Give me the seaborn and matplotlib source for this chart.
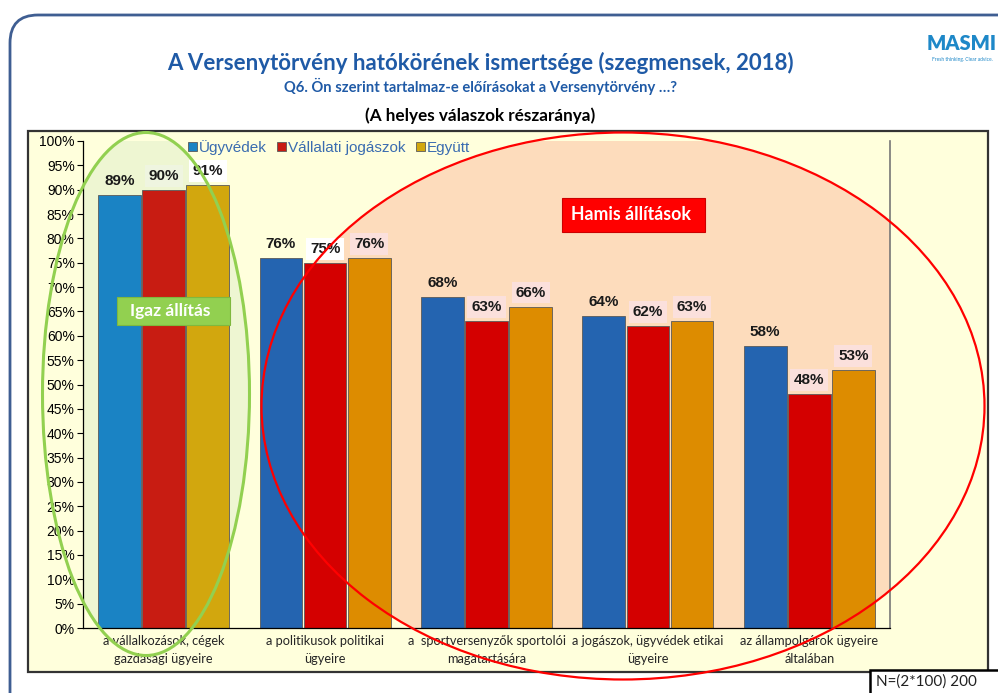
import matplotlib
matplotlib.use("Agg")
import matplotlib.pyplot as plt
import seaborn as sns
import pandas as pd
from matplotlib.patches import Ellipse, Rectangle, FancyBboxPatch
from matplotlib.transforms import IdentityTransform

# ---------------- data ----------------
categories = [
    "a vállalkozások, cégek\ngazdasági ügyeire",
    "a politikusok politikai\nügyeire",
    "a  sportversenyzők sportolói\nmagatartására",
    "a jogászok, ügyvédek etikai\nügyeire",
    "az állampolgárok ügyeire\náltalában",
]
series = ["Ügyvédek", "Vállalati jogászok", "Együtt"]
ugyvedek = [89, 76, 68, 64, 58]
vallalati = [90, 75, 63, 62, 48]
egyutt = [91, 76, 66, 63, 53]
yticks = list(range(0, 101, 5))

title = "A Versenytörvény hatókörének ismertsége (szegmensek, 2018)"
subtitle = "Q6. Ön szerint tartalmaz-e előírásokat a Versenytörvény …?"
subtitle2 = "(A helyes válaszok részaránya)"
note = "N=(2*100) 200"

# ---------------- figure ----------------
sns.set_theme(style="white")
plt.rcParams["font.family"] = ["Liberation Sans", "DejaVu Sans"]

W, H = 998, 693
fig = plt.figure(figsize=(W / 100, H / 100), dpi=100)
fig.patch.set_facecolor("white")


def fx(x):
    return x / W


def fy(y):
    return 1 - y / H


# outer rounded frame (pixel coordinates)
frame = FancyBboxPatch((10, -40), 1040, H - 15 + 40,
                       boxstyle="round,pad=0,rounding_size=28",
                       transform=IdentityTransform(), facecolor="white",
                       edgecolor="#3F5E92", linewidth=2.0, zorder=-3)
fig.add_artist(frame)

# chart box
chart_box = Rectangle((fx(28), fy(672)), fx(988) - fx(28), fy(131) - fy(672),
                      transform=fig.transFigure, facecolor="#FFFFDC",
                      edgecolor="#333333", linewidth=1.6, zorder=-2)
fig.add_artist(chart_box)

# axes
ax_l, ax_r, ax_t, ax_b = 83, 890, 141, 628
ax = fig.add_axes([fx(ax_l), fy(ax_b), fx(ax_r) - fx(ax_l), fy(ax_t) - fy(ax_b)])
ax.set_facecolor("#FFFFDC")

df = pd.DataFrame({
    "cat": categories * 3,
    "series": [series[0]] * 5 + [series[1]] * 5 + [series[2]] * 5,
    "val": ugyvedek + vallalati + egyutt,
})

pal_g1 = ["#1A83C4", "#C81C12", "#D2A70E"]
pal_rest = ["#2464B0", "#D40000", "#DD8C00"]

sns.barplot(data=df, x="cat", y="val", hue="series", hue_order=series,
            order=categories, palette=pal_g1, width=0.82, gap=0.03,
            ax=ax, legend=True, edgecolor="#5A5A5A", linewidth=0.6,
            saturation=1, zorder=2)

# recolor bars in the "false statement" region
for si, cont in enumerate(ax.containers):
    for ci, bar in enumerate(cont):
        bar.set_facecolor(pal_g1[si] if ci == 0 else pal_rest[si])

# region fills (clipped to plot area)
green_fill = Ellipse((fx(146), fy(394)), 207 / W, 523 / H,
                     transform=fig.transFigure, facecolor="#EEF6D2",
                     edgecolor="none", zorder=0.5)
ax.add_patch(green_fill)
red_fill = Ellipse((fx(623), fy(406)), 723 / W, 547 / H,
                   transform=fig.transFigure, facecolor="#FDDCBC",
                   edgecolor="none", zorder=0.5)
ax.add_patch(red_fill)

# axes styling
ax.set_ylim(0, 100)
ax.set_xlim(-0.5, 4.5)
ax.set_yticks(yticks)
ax.set_yticklabels([f"{t}%" for t in yticks], fontsize=10, color="black")
ax.set_xlabel("")
ax.set_ylabel("")
ax.tick_params(axis="y", length=4, width=0.8, color="black", pad=2, left=True)
ax.tick_params(axis="x", length=0, pad=5)
for lbl in ax.get_xticklabels():
    lbl.set_fontfamily(["Lato", "DejaVu Sans"])
    lbl.set_fontsize(9.2)
    lbl.set_linespacing(1.6)
ax.spines["top"].set_visible(False)
ax.spines["right"].set_color("#777777")
ax.spines["right"].set_linewidth(1.2)
ax.spines["left"].set_color("black")
ax.spines["bottom"].set_color("black")
ax.spines["left"].set_linewidth(0.9)
ax.spines["bottom"].set_linewidth(0.9)

# data labels
box_colors = [
    [None, "#EFF5E0", "#FFFFFF"],
    [None, "#FFFFFF", "#FBE0DC"],
    [None, "#FBE0DC", "#FBE0DC"],
    [None, "#FBE0DC", "#FBE0DC"],
    [None, "#FBE0DC", "#FBE0DC"],
]
for si, cont in enumerate(ax.containers):
    texts = ax.bar_label(cont, labels=[f"{v:.0f}%" for v in cont.datavalues],
                         padding=5, fontsize=11, fontweight="bold",
                         color="#1A1A1A", zorder=4)
    for ci, t in enumerate(texts):
        c = box_colors[ci][si]
        if c is not None:
            t.set_bbox(dict(boxstyle="square,pad=0.25", facecolor=c,
                            edgecolor="none"))

# legend
sns.move_legend(ax, "upper left", bbox_to_anchor=(fx(205) - fx(ax_l), 1.015),
                bbox_transform=ax.transAxes, ncol=3, title=None,
                frameon=False, fontsize=11, handlelength=0.6,
                handleheight=0.6, handletextpad=0.1, columnspacing=0.7,
                borderaxespad=0)
for t in ax.get_legend().get_texts():
    t.set_color("#3A6CB0")

# ellipse outlines on top
fig.add_artist(Ellipse((fx(146), fy(394)), 207 / W, 523 / H,
                       transform=fig.transFigure, fill=False,
                       edgecolor="#92D050", linewidth=2.2, zorder=5))
fig.add_artist(Ellipse((fx(623), fy(406)), 723 / W, 547 / H,
                       transform=fig.transFigure, fill=False,
                       edgecolor="#FF0000", linewidth=1.6, zorder=5))

# statement boxes
fig.add_artist(Rectangle((fx(117), fy(325)), fx(230) - fx(117), fy(297) - fy(325),
                         transform=fig.transFigure, facecolor="#92D050",
                         edgecolor="#7FB83E", linewidth=0.8, zorder=6))
fig.text(fx(170), fy(311), "Igaz állítás", ha="center", va="center",
         color="white", fontsize=12.5, fontweight="bold",
         family=["Lato", "DejaVu Sans"], zorder=7)
fig.add_artist(Rectangle((fx(562), fy(232)), fx(705) - fx(562), fy(198) - fy(232),
                         transform=fig.transFigure, facecolor="#FF0000",
                         edgecolor="#CC0000", linewidth=0.8, zorder=6))
fig.text(fx(631), fy(214), "Hamis állítások", ha="center", va="center",
         color="white", fontsize=12.8, fontweight="bold",
         family=["Lato", "DejaVu Sans"], zorder=7)

# titles
fig.text(fx(480), fy(63), title, ha="center", va="center", color="#1F5AA6",
         fontsize=16, fontweight="bold", family=["Lato", "DejaVu Sans"])
fig.text(fx(481), fy(86), subtitle, ha="center", va="center", color="#1F5AA6",
         fontsize=10.6, fontweight="bold", family=["Lato", "DejaVu Sans"])
fig.text(fx(480), fy(116), subtitle2, ha="center", va="center", color="black",
         fontsize=12.3, fontweight="bold", family=["Lato", "DejaVu Sans"])

# logo
fig.text(fx(962), fy(43), "MASMI", ha="center", va="center", color="#1E88C8",
         fontsize=14.5, fontweight="heavy", family=["Lato", "DejaVu Sans"])
fig.text(fx(962), fy(60), "Fresh thinking. Clear advice.", ha="center",
         va="center", color="#1E88C8", fontsize=3.5,
         family=["Lato", "DejaVu Sans"])

# sample size note
fig.add_artist(Rectangle((fx(870), fy(696)), fx(1000) - fx(870), fy(670) - fy(696),
                         transform=fig.transFigure, facecolor="white",
                         edgecolor="black", linewidth=1.8, zorder=8))
fig.text(fx(876), fy(682), note, ha="left", va="center", color="#222222",
         fontsize=11, family=["Lato", "DejaVu Sans"], zorder=9)

fig.savefig("out.png", dpi=100)
